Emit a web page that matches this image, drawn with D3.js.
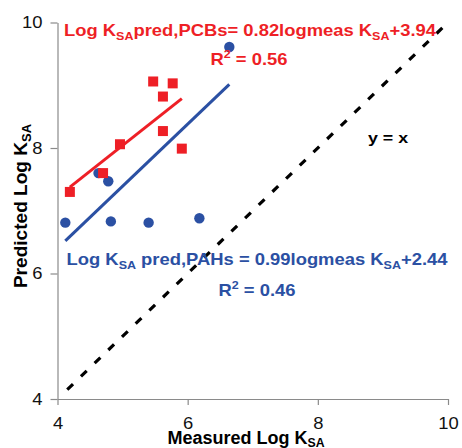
<!DOCTYPE html>
<html>
<head>
<meta charset="utf-8">
<script src="https://cdn.jsdelivr.net/npm/d3@7"></script>
<style>
  html, body { margin: 0; padding: 0; background: #fff; }
  svg { display: block; font-family: 'Liberation Sans', Arial, sans-serif; }
</style>
</head>
<body>
<div id="chart"></div>
<script>
// measured vs predicted log KSA
const pcbMeasured = [4.19, 4.70, 4.96, 5.47, 5.77, 5.62, 5.62, 5.91];
const pcbPredicted = [7.30, 7.60, 8.06, 9.06, 9.03, 8.82, 8.27, 7.99];
const pahMeasured = [6.64, 4.63, 4.78, 4.12, 4.82, 5.40, 6.18];
const pahPredicted = [9.61, 7.60, 7.47, 6.81, 6.83, 6.81, 6.88];
const pcbFit = { slope: 0.82, intercept: 3.94 };
const pahFit = { slope: 0.99, intercept: 2.44 };
const identityRange = [4.15, 10];
const xTicks = [4, 6, 8, 10];
const yTicks = [4, 6, 8, 10];

const RED = '#ee1f26';
const BLUE = '#2b50a3';
const width = 462, height = 448;
const STRETCH = 1.15; // the original glyphs are a bit wider than Arial

const svg = d3.select('#chart').append('svg')
  .attr('width', width)
  .attr('height', height);

const x = d3.scaleLinear().domain([4, 10]).range([57.5, 448]);
const y = d3.scaleLinear().domain([4, 10]).range([399, 22.5]);

// axes
const gx = svg.append('g')
  .attr('transform', `translate(0,${y(4)})`)
  .call(d3.axisBottom(x).tickValues(xTicks).tickFormat(d3.format('d')).tickSize(6).tickPadding(13).tickSizeOuter(0));
const gy = svg.append('g')
  .attr('transform', `translate(${x(4)},0)`)
  .call(d3.axisLeft(y).tickValues(yTicks).tickFormat(d3.format('d')).tickSize(7).tickPadding(8).tickSizeOuter(0));
[gx, gy].forEach(g => {
  g.select('.domain').attr('stroke', '#8a8a8a').attr('stroke-width', 1.2);
  g.selectAll('.tick line').attr('stroke', '#8a8a8a').attr('stroke-width', 1.2);
  g.selectAll('.tick text').attr('fill', '#111').style('font-size', '16px')
    .style('font-family', "'Liberation Sans', Arial, sans-serif")
    .attr('transform', `scale(${STRETCH},1)`);
});
// keep the right edge of y labels ~15px left of the axis after widening
gy.selectAll('.tick text').attr('x', -15 / STRETCH);

// y = x
svg.append('line')
  .attr('x1', x(identityRange[0])).attr('y1', y(identityRange[0]))
  .attr('x2', x(identityRange[1])).attr('y2', y(identityRange[1]))
  .attr('stroke', '#000').attr('stroke-width', 3.2)
  .attr('stroke-dasharray', '8,11');

// regression lines over each data range
function fitLine(xs, fit, color) {
  const [x0, x1] = d3.extent(xs);
  svg.append('line')
    .attr('x1', x(x0)).attr('y1', y(fit.slope * x0 + fit.intercept))
    .attr('x2', x(x1)).attr('y2', y(fit.slope * x1 + fit.intercept))
    .attr('stroke', color).attr('stroke-width', 3);
}
fitLine(pahMeasured, pahFit, BLUE);
fitLine(pcbMeasured, pcbFit, RED);

// points
svg.append('g').selectAll('circle')
  .data(pahMeasured.map((m, i) => [m, pahPredicted[i]]))
  .join('circle')
  .attr('cx', d => x(d[0])).attr('cy', d => y(d[1]))
  .attr('r', 5.2).attr('fill', BLUE);

const sq = 10;
svg.append('g').selectAll('rect')
  .data(pcbMeasured.map((m, i) => [m, pcbPredicted[i]]))
  .join('rect')
  .attr('x', d => x(d[0]) - sq / 2).attr('y', d => y(d[1]) - sq / 2)
  .attr('width', sq).attr('height', sq).attr('fill', RED);

// text with subscript / superscript pieces
function richText(parts, px, py, color, size, stretch, rotate) {
  const t = svg.append('text')
    .attr('x', 0).attr('y', 0)
    .attr('text-anchor', 'middle')
    .attr('fill', color)
    .attr('transform', `translate(${px},${py})${rotate ? ` rotate(${rotate})` : ''} scale(${stretch},1)`)
    .style('font-size', size + 'px')
    .style('font-weight', 'bold');
  parts.forEach(p => {
    const s = t.append('tspan').text(p.t);
    if (p.sub) s.style('font-size', (size * 0.68) + 'px').attr('dy', p.sub === true ? 4 : p.sub);
    else if (p.sup) s.style('font-size', (size * 0.68) + 'px').attr('dy', -7);
    if (p.back) s.attr('dy', p.back);
  });
  return t;
}

richText([
  { t: 'Log K' }, { t: 'SA', sub: true }, { t: 'pred,PCBs= 0.82logmeas K', back: -4 },
  { t: 'SA', sub: true }, { t: '+3.94', back: -4 }
], 250, 36, RED, 16, STRETCH);
richText([{ t: 'R' }, { t: '2', sup: true }, { t: ' = 0.56', back: 7 }], 249, 65, RED, 16, STRETCH);

richText([
  { t: 'Log K' }, { t: 'SA', sub: true }, { t: ' pred,PAHs = 0.99logmeas K', back: -4 },
  { t: 'SA', sub: true }, { t: '+2.44', back: -4 }
], 257, 265, BLUE, 16, STRETCH);
richText([{ t: 'R' }, { t: '2', sup: true }, { t: ' = 0.46', back: 7 }], 257, 296, BLUE, 16, STRETCH);

richText([{ t: 'y = x' }], 388, 143, '#000', 15.5, STRETCH);

// axis titles
richText([{ t: 'Measured Log K' }, { t: 'SA', sub: 3 }], 246, 444, '#000', 18, 1.0);
richText([{ t: 'Predicted Log K' }, { t: 'SA', sub: true }], 27, 206, '#000', 18, 1.06, -90);
</script>
</body>
</html>
